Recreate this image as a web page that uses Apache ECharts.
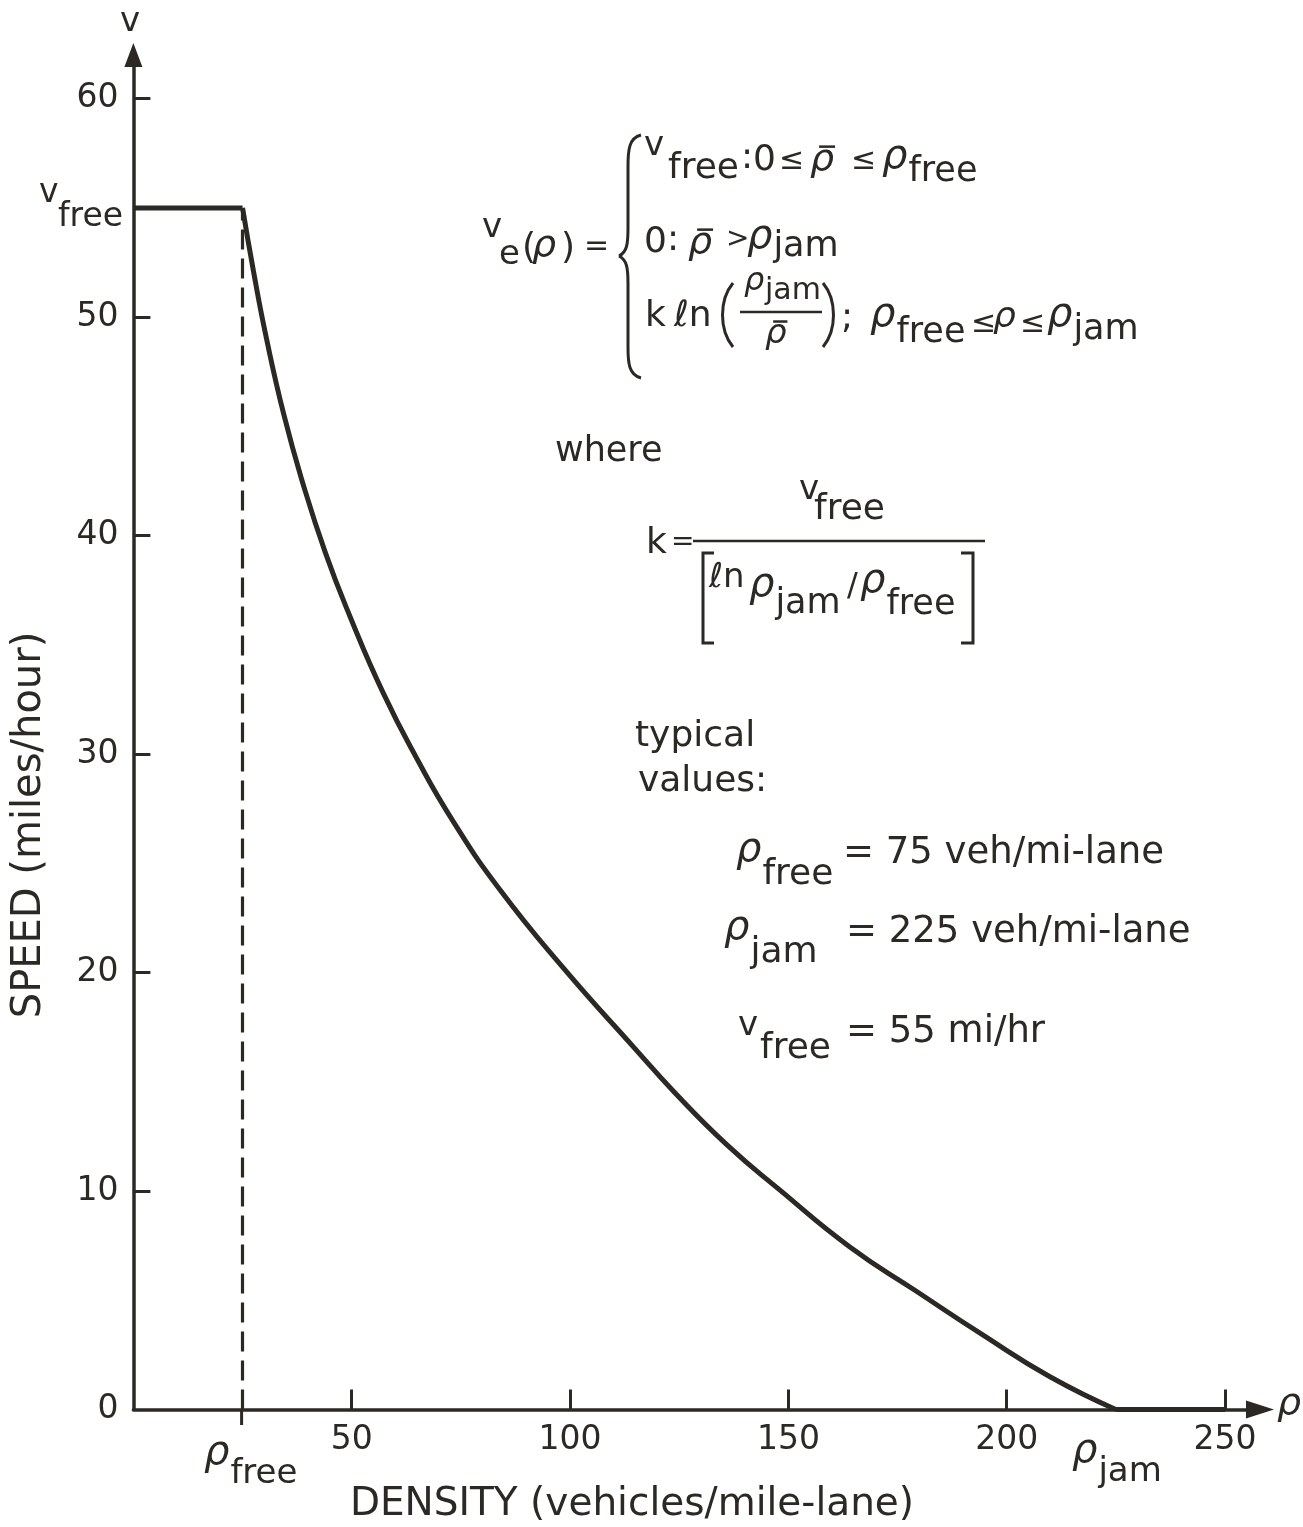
<!DOCTYPE html>
<html>
<head>
<meta charset="utf-8">
<title>Speed vs density</title>
<script src="https://cdn.jsdelivr.net/npm/echarts@6/dist/echarts.min.js"></script>
<style>
  html, body { margin: 0; padding: 0; background: #fff; }
  #main { width: 1303px; height: 1527px; }
</style>
</head>
<body>
<div id="main"></div>
<script>
const ink = "#2c2925";
const fam = '"DejaVu Sans"';

// free flow part: v = v_free up to rho_free
const freeRho = [0, 25];
const freeSpeed = [55, 55];
// falling part
const curveRho = [25, 27.5, 30.5, 34.5, 38.8, 44, 49.6, 57.2, 64.9, 73.3, 83.9, 98.5, 114.5, 124, 136, 148, 164, 179.4, 194.6, 209.9, 225];
const curveSpeed = [55, 52.1, 49.0, 45.5, 42.4, 39.2, 36.3, 32.8, 29.8, 26.9, 23.8, 20.2, 16.6, 14.5, 12.1, 10.05, 7.45, 5.4, 3.4, 1.5, 0];
// jammed: v = 0
const jamRho = [225, 250];
const jamSpeed = [0, 0];

const xTicks = [50, 100, 150, 200, 250];
const yTicks = [10, 20, 30, 40, 50, 60];
const yLabels = [0, 10, 20, 30, 40, 50, 60];
const rhoFree = 25;
const vFree = 55;

function zip(xs, ys) {
  return xs.map((x, i) => [x, ys[i]]);
}

// text helper, y given as baseline
function t(x, base, s, size, italic) {
  size = size || 36;
  const font = (italic ? "italic " : "") + size + "px " + fam;
  return {
    type: "text",
    x: x,
    y: base - 0.36 * size,
    silent: true,
    z: 10,
    style: {
      text: s, fill: ink, font: font,
      align: "left", textAlign: "left",
      verticalAlign: "middle", textVerticalAlign: "middle"
    }
  };
}

// italic rho with a subscript right after it
function rho(x, base, sub, subBase, size, subSize) {
  size = size || 40;
  return [t(x, base, "ρ", size, true), t(x + 0.66 * size, subBase, sub, subSize || 35)];
}

function seg(x1, y1, x2, y2, w) {
  return {
    type: "line", silent: true, z: 10,
    shape: { x1: x1, y1: y1, x2: x2, y2: y2 },
    style: { stroke: ink, lineWidth: w || 2.5 }
  };
}

// rho with a bar over it
function rhoBar(x, base, size) {
  size = size || 38;
  const top = base - 0.72 * size;
  return [t(x, base, "ρ", size, true), seg(x + 0.24 * size, top, x + 0.66 * size, top, 2.5)];
}

function curve(x1, y1, c1x, c1y, c2x, c2y, x2, y2, w) {
  return {
    type: "bezierCurve", silent: true, z: 10,
    shape: { x1: x1, y1: y1, cpx1: c1x, cpy1: c1y, cpx2: c2x, cpy2: c2y, x2: x2, y2: y2 },
    style: { stroke: ink, fill: null, lineWidth: w || 3 }
  };
}

function poly(points, w) {
  return {
    type: "polyline", silent: true, z: 10,
    shape: { points: points },
    style: { stroke: ink, fill: null, lineWidth: w || 3 }
  };
}

const notes = [
  // axis ends
  t(120, 34, "v", 34),
  t(1277, 1418, "ρ", 38, true),
  // axis names
  {
    type: "text", x: 30, y: 825, rotation: Math.PI / 2, silent: true,
    style: { text: "SPEED (miles/hour)", fill: ink, font: "40px " + fam,
      align: "center", textAlign: "center", verticalAlign: "middle", textVerticalAlign: "middle" }
  },
  {
    type: "text", x: 632, y: 1505, silent: true,
    style: { text: "DENSITY (vehicles/mile-lane)", fill: ink, font: "39px " + fam,
      align: "center", textAlign: "center", verticalAlign: "middle", textVerticalAlign: "middle" }
  },
  // v_free on the y axis
  t(39, 205, "v", 33), t(58, 229, "free", 33),
  // rho_free / rho_jam under the x axis
  ...rho(204, 1468, "free", 1486, 40, 34),
  ...rho(1072, 1466, "jam", 1484, 40, 34),
  // small tick below axis at rho_free
  seg(241.6, 1410, 241.6, 1425, 3),

  // v_e(rho) =
  t(482, 240, "v", 34), t(499, 267, "e", 34), t(522, 262, "(", 36), t(532, 260, "ρ", 38, true),
  t(561, 262, ")", 36), t(584, 258, "=", 30),
  // brace
  curve(641, 135, 629, 138, 628, 150, 628, 166),
  seg(628, 166, 628, 228, 3),
  curve(628, 228, 628, 244, 627, 252, 619, 256),
  curve(619, 256, 627, 260, 628, 268, 628, 284),
  seg(628, 284, 628, 348, 3),
  curve(628, 348, 628, 363, 629, 375, 641, 378),
  // line 1
  t(644, 158, "v", 34), t(668, 182, "free", 36),
  t(741, 172, ":", 36), t(753, 174, "0", 36), t(779, 172, "≤", 30),
  ...rhoBar(810, 174), t(851, 172, "≤", 30),
  ...rho(882, 172, "free", 185),
  // line 2
  t(644, 256, "0", 36), t(667, 254, ":", 36), ...rhoBar(688, 257), t(726, 250, ">", 28),
  ...rho(747, 252, "jam", 260),
  // line 3
  t(645, 330, "k", 36), t(674, 330, "ℓn", 36),
  curve(733, 283, 719, 300, 719, 330, 733, 347),
  t(744, 293, "ρ", 32, true), t(765, 302, "jam", 30),
  seg(740, 312, 822, 312, 2.5),
  ...rhoBar(765, 346, 34),
  curve(823, 283, 837, 300, 837, 330, 823, 347),
  t(841, 332, ";", 36),
  ...rho(870, 330, "free", 346),
  t(971, 335, "≤", 30), t(993, 331, "ρ", 36, true), t(1020, 335, "≤", 30),
  ...rho(1047, 330, "jam", 343),

  // where k = ...
  t(555, 465, "where", 35),
  t(646, 557, "k", 36), t(671, 553, "=", 28),
  t(799, 502, "v", 34), t(814, 523, "free", 36),
  seg(693, 541, 985, 541, 2.5),
  poly([[714, 553], [703, 553], [703, 643], [714, 643]], 3),
  t(709, 590, "ℓn", 34),
  ...rho(749, 600, "jam", 617),
  t(847, 598, "/", 32),
  ...rho(860, 596, "free", 618),
  poly([[961, 553], [973, 553], [973, 643], [961, 643]], 3),

  // typical values
  t(635, 750, "typical", 36),
  t(638, 795, "values:", 36),
  ...rho(736, 865, "free", 888, 40, 36),
  t(843, 867, "= 75 veh/mi-lane", 37),
  ...rho(724, 943, "jam", 966, 40, 36),
  t(846, 946, "= 225 veh/mi-lane", 37),
  t(738, 1038, "v", 34), t(760, 1062, "free", 36),
  t(846, 1046, "= 55 mi/hr", 37)
];

const chart = echarts.init(document.getElementById("main"));

const option = {
  animation: false,
  backgroundColor: "#ffffff",
  grid: { left: 133.4, right: 43, top: 55, bottom: 117.5, outerBoundsMode: "none" },
  xAxis: {
    type: "value",
    min: 0,
    max: 258,
    axisLine: {
      show: true,
      onZero: false,
      symbol: ["none", "triangle"],
      symbolSize: [18, 28],
      lineStyle: { color: ink, width: 3.5 }
    },
    axisTick: { show: true, customValues: xTicks, inside: true, length: 20, lineStyle: { color: ink, width: 3 } },
    axisLabel: { customValues: xTicks, margin: 14, color: ink, fontSize: 33, fontFamily: fam },
    splitLine: { show: false }
  },
  yAxis: {
    type: "value",
    min: 0,
    max: 62,
    axisLine: {
      show: true,
      symbol: ["none", "triangle"],
      symbolSize: [18, 24],
      lineStyle: { color: ink, width: 3.5 }
    },
    axisTick: { show: true, customValues: yTicks, inside: true, length: 17, lineStyle: { color: ink, width: 3 } },
    axisLabel: { customValues: yLabels, margin: 15, color: ink, fontSize: 33, fontFamily: fam },
    splitLine: { show: false }
  },
  series: [
    {
      name: "free",
      type: "line",
      data: zip(freeRho, freeSpeed),
      showSymbol: false,
      lineStyle: { color: ink, width: 5 },
      z: 5,
      markLine: {
        silent: true,
        symbol: "none",
        label: { show: false },
        lineStyle: { color: ink, width: 3.2, type: [20, 9] },
        data: [[{ coord: [rhoFree, 0] }, { coord: [rhoFree, vFree] }]]
      }
    },
    {
      name: "congested",
      type: "line",
      data: zip(curveRho, curveSpeed),
      smooth: 0.5,
      showSymbol: false,
      lineStyle: { color: ink, width: 5 },
      z: 5
    },
    {
      name: "jam",
      type: "line",
      data: zip(jamRho, jamSpeed),
      showSymbol: false,
      lineStyle: { color: ink, width: 5 },
      z: 5
    }
  ],
  graphic: notes
};

option && chart.setOption(option);
</script>
</body>
</html>
